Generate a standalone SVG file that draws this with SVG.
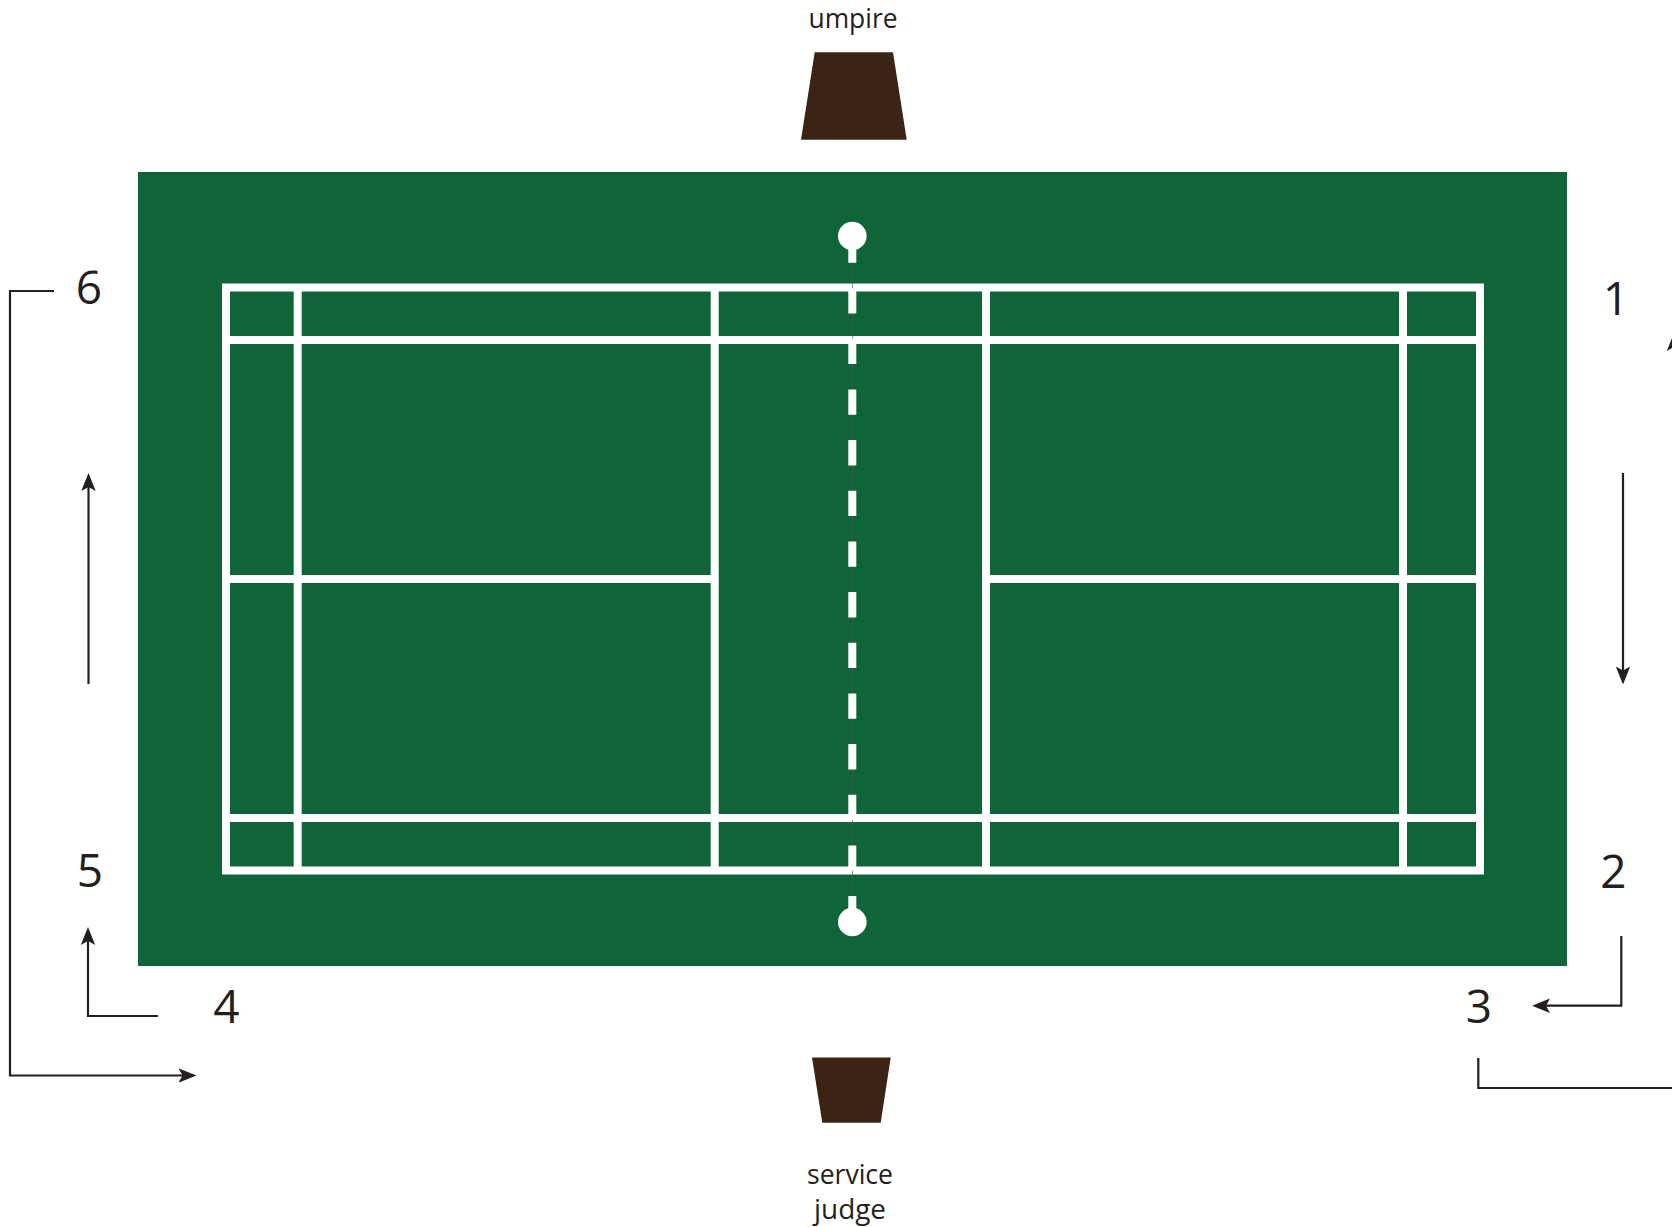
<svg xmlns="http://www.w3.org/2000/svg" width="1672" height="1227" viewBox="0 0 1672 1227">
<style>
.bg{fill:#fff}
.court{fill:#0f6539}
.ln{fill:none;stroke:#fff;stroke-width:8}
.dash{fill:none;stroke:#fff;stroke-width:8;stroke-dasharray:25.33 25.34}
.hair{fill:none;stroke:#3d5c49;stroke-width:.6}
.chair{fill:#3c2415}
.conn{fill:none;stroke:#231f20;stroke-width:2.2}
text{font-family:"Open Sans","Noto Sans","DejaVu Sans",sans-serif;fill:#231f20;text-anchor:middle}
.num{font-size:46px}
.lab{font-size:28px}
</style>
<defs>
<marker id="arrow" markerUnits="userSpaceOnUse" markerWidth="20" markerHeight="16" refX="10" refY="8" orient="auto">
<polygon points="0,0.8 18,8 0,15.2 4,8" fill="#231f20"/>
</marker>
</defs>
<rect class="bg" width="1672" height="1227"/>
<g id="court">
<rect class="court" x="138" y="172" width="1429" height="794"/>
<rect class="ln" x="226" y="287.5" width="1254" height="583"/>
<path class="ln" d="M226 340H1480M226 818H1480M297.7 287.5V870.5M1403 287.5V870.5M714.7 287.5V870.5M986 287.5V870.5M226 579H714.7M986 579H1480"/>
</g>
<g id="net">
<path class="hair" d="M852.5 250V908"/>
<path class="dash" d="M852.3 237.4V921"/>
<circle cx="852.3" cy="236" r="14.3" fill="#fff"/>
<circle cx="852.3" cy="922" r="14.3" fill="#fff"/>
</g>
<g id="umpire">
<polygon class="chair" points="814.7,52.3 893,52.3 906.7,139.7 801,139.7"/>
<text class="lab" x="853" y="28.3" textLength="89" lengthAdjust="spacingAndGlyphs">umpire</text>
</g>
<g id="service-judge">
<polygon class="chair" points="812,1057.5 890.7,1057.5 880.7,1122.7 822.3,1122.7"/>
<text class="lab" x="850" y="1183.6" textLength="86" lengthAdjust="spacingAndGlyphs">service</text>
<text class="lab" x="850" y="1219" textLength="72" lengthAdjust="spacingAndGlyphs">judge</text>
</g>
<g id="positions">
<text id="pos-1" class="num" x="1616" y="315">1</text>
<text id="pos-2" class="num" x="1613.5" y="887.5">2</text>
<text id="pos-3" class="num" x="1479" y="1022.5">3</text>
<text id="pos-4" class="num" x="226.5" y="1022.5">4</text>
<text id="pos-5" class="num" x="90" y="887">5</text>
<text id="pos-6" class="num" x="89" y="304">6</text>
</g>
<g id="connectors">
<path class="conn" marker-end="url(#arrow)" d="M1623 473V676.5"/>
<path class="conn" marker-end="url(#arrow)" d="M1621.3 936V1005.7H1540"/>
<path class="conn" marker-end="url(#arrow)" d="M1478.3 1058V1088H1674V341"/>
<path class="conn" marker-end="url(#arrow)" d="M158 1016H88V935"/>
<path class="conn" marker-end="url(#arrow)" d="M88.5 684V481"/>
<path class="conn" marker-end="url(#arrow)" d="M54 291H10V1075.5H188.5"/>
</g>
</svg>
